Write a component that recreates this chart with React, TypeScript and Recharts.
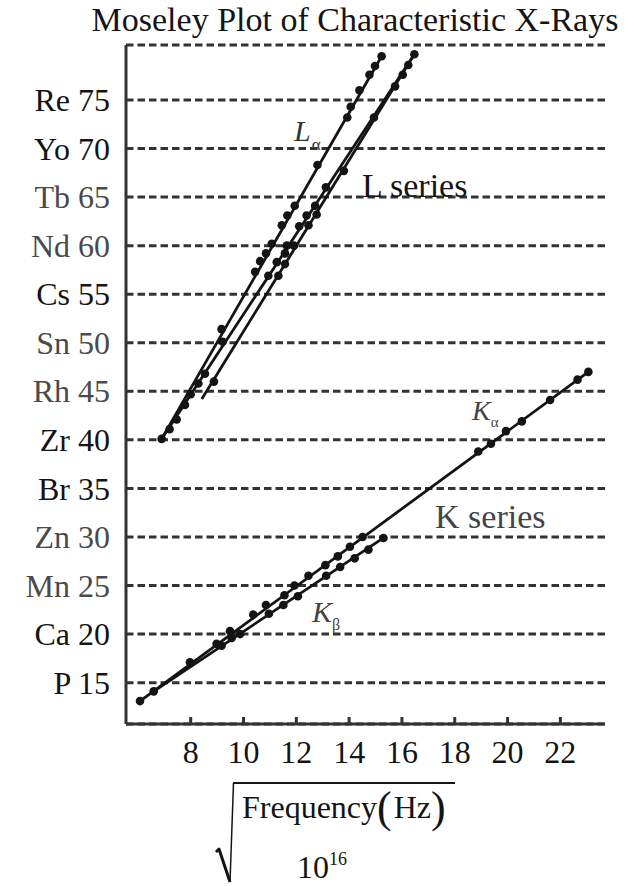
import React from "react";
import { ComposedChart, Line, Scatter, XAxis, YAxis, CartesianGrid } from "recharts";

// [sqrt(f / 1e16 Hz), Z]
const K_ALPHA = [
  [6.08, 13.1], [6.6, 14.1], [7.97, 17.1], [8.98, 19.0], [9.49, 20.3], [10.37, 22.0],
  [10.85, 23.0], [11.55, 24.0], [11.93, 25.0], [12.46, 26.0], [13.1, 27.1], [13.57, 28.0],
  [14.03, 29.0], [14.51, 30.0], [18.89, 38.8], [19.37, 39.6], [19.94, 40.9], [20.54, 41.9],
  [21.61, 44.1], [22.65, 46.2], [23.06, 47.0],
];
const K_BETA = [
  [9.17, 18.8], [9.55, 19.6], [9.87, 20.0], [10.96, 22.1], [11.51, 23.0], [12.06, 23.9],
  [13.13, 26.0], [13.66, 26.9], [14.21, 27.8], [14.73, 28.7], [15.3, 29.9],
];
const L_ALPHA = [
  [6.9, 40.1], [7.2, 41.1], [7.47, 42.1], [7.78, 43.6], [8.0, 44.7], [9.17, 51.4],
  [10.44, 57.3], [10.63, 58.4], [10.85, 59.2], [11.07, 60.2], [11.45, 62.1], [11.66, 63.1],
  [11.94, 64.1], [12.8, 68.3], [13.93, 73.2], [14.06, 74.3], [14.39, 76.0], [14.77, 77.6],
  [14.98, 78.5], [15.23, 79.5],
];
const L_BETA = [
  [8.29, 45.8], [8.54, 46.8], [9.21, 50.1], [10.94, 56.9], [11.26, 58.3], [11.57, 59.2],
  [11.64, 60.0], [12.11, 62.0], [12.39, 63.1], [12.71, 64.1], [13.12, 66.0], [14.94, 73.2],
  [15.74, 76.4], [16.03, 77.6], [16.24, 78.6], [16.47, 79.7],
];
const L_GAMMA = [
  [8.88, 46.0], [11.32, 56.9], [11.57, 58.1], [11.91, 60.0], [12.46, 62.1], [12.77, 63.2],
  [13.8, 67.7],
];

// straight fit lines (end points)
const K_ALPHA_FIT = [[6.08, 13.1], [23.06, 47.0]];
const K_BETA_FIT = [[6.6, 14.1], [15.3, 29.9]];
const L_ALPHA_FIT = [[6.9, 40.1], [15.23, 79.5]];
const L_BETA_FIT = [[6.9, 40.1], [16.47, 79.7]];
const L_GAMMA_FIT = [[8.42, 44.2], [16.47, 79.7]];

const X_TICKS = [8, 10, 12, 14, 16, 18, 20, 22];
const Y_TICKS = [15, 20, 25, 30, 35, 40, 45, 50, 55, 60, 65, 70, 75];
const Y_ELEMENTS = ["P", "Ca", "Mn", "Zn", "Br", "Zr", "Rh", "Sn", "Cs", "Nd", "Tb", "Yo", "Re"];
const GRAY_ELEMENTS = ["Tb", "Nd", "Sn", "Rh", "Zn", "Mn"];

const SERIF = '"Liberation Serif", "Times New Roman", serif';
const INK = "#141414";

const toPts = (arr: number[][]) => arr.map(([x, z]) => ({ x, z }));

const dot = (p: any) => <circle cx={p.cx} cy={p.cy} r={4.3} fill={INK} />;

function YTick({ x, y, payload }: any) {
  const el = Y_ELEMENTS[Y_TICKS.indexOf(payload.value)];
  return (
    <text x={x} y={y} dy="0.35em" textAnchor="end" fontFamily={SERIF} fontSize={32}
      fill={GRAY_ELEMENTS.includes(el) ? "#4a4a4a" : INK}>
      {`${el} ${payload.value}`}
    </text>
  );
}

function XTick({ x, y, payload }: any) {
  return (
    <g>
      <line x1={x} x2={x} y1={y} y2={y - 7} stroke="#333" strokeWidth={3} />
      <text x={x} y={y + 39} textAnchor="middle" fontFamily={SERIF} fontSize={32} fill={INK}>
        {payload.value}
      </text>
    </g>
  );
}

export default function App() {
  const fits = [K_ALPHA_FIT, K_BETA_FIT, L_ALPHA_FIT, L_BETA_FIT, L_GAMMA_FIT];
  const points = [K_ALPHA, K_BETA, L_ALPHA, L_BETA, L_GAMMA];

  return (
    <div style={{ position: "absolute", left: 0, top: 0, width: 634, height: 886, background: "#fff" }}>
      <ComposedChart width={634} height={886} margin={{ top: 45, right: 29, bottom: 0, left: 0 }}>
        <CartesianGrid vertical={false} stroke="#333" strokeWidth={3} strokeDasharray="7.5 4" />
        <XAxis
          type="number"
          dataKey="x"
          domain={[5.55, 23.69]}
          allowDataOverflow
          ticks={X_TICKS}
          height={162}
          tickSize={0}
          tickMargin={0}
          tickLine={false}
          axisLine={{ stroke: "#333", strokeWidth: 3 }}
          tick={<XTick />}
        />
        <YAxis
          type="number"
          dataKey="z"
          domain={[10.74, 80.66]}
          allowDataOverflow
          ticks={Y_TICKS}
          width={126}
          tickSize={0}
          tickMargin={16}
          tickLine={false}
          axisLine={{ stroke: "#333", strokeWidth: 3 }}
          tick={<YTick />}
        />
        {fits.map((f, i) => (
          <Line key={`fit${i}`} data={toPts(f)} dataKey="z" type="linear" stroke={INK}
            strokeWidth={2.8} dot={false} activeDot={false} isAnimationActive={false} />
        ))}
        {points.map((p, i) => (
          <Scatter key={`pts${i}`} data={toPts(p)} dataKey="z" shape={dot} isAnimationActive={false} />
        ))}
      </ComposedChart>

      <svg width={634} height={886} style={{ position: "absolute", left: 0, top: 0, pointerEvents: "none" }}
        fontFamily={SERIF}>
        <text x={355} y={31} textAnchor="middle" fontSize={34} fill={INK}>
          Moseley Plot of Characteristic X-Rays
        </text>

        <text x={294} y={141} fontSize={30} fontStyle="italic" fill="#333">
          L<tspan fontSize={17} fontStyle="normal" dx={1} dy={9}>α</tspan>
        </text>
        <text x={362} y={197} fontSize={34} fill={INK}>L series</text>

        <text x={472} y={420} fontSize={28} fontStyle="italic" fill="#444">
          K<tspan fontSize={15} fontStyle="normal" dy={7}>α</tspan>
        </text>
        <text x={435} y={528} fontSize={34} fill="#444">K series</text>
        <text x={312} y={622} fontSize={30} fontStyle="italic" fill="#444">
          K<tspan fontSize={16} fontStyle="normal" dy={8}>β</tspan>
        </text>

        <path d="M233 783 H455" stroke={INK} strokeWidth={1.8} fill="none" />
        <path d="M233.5 783 L230 882" stroke={INK} strokeWidth={1.5} fill="none" />
        <path d="M216 852 L219 849 L230 882" stroke={INK} strokeWidth={3} fill="none" strokeLinejoin="round" />
        <text x={242} y={818} fontSize={32} fill={INK}>
          Frequency
          <tspan fontSize={44} dy={4}>(</tspan>
          <tspan fontSize={32} dx={2} dy={-4}>Hz</tspan>
          <tspan fontSize={44} dy={4}>)</tspan>
        </text>
        <text x={297} y={878} fontSize={32} fill={INK}>
          10<tspan fontSize={18} dy={-13}>16</tspan>
        </text>
      </svg>
    </div>
  );
}
